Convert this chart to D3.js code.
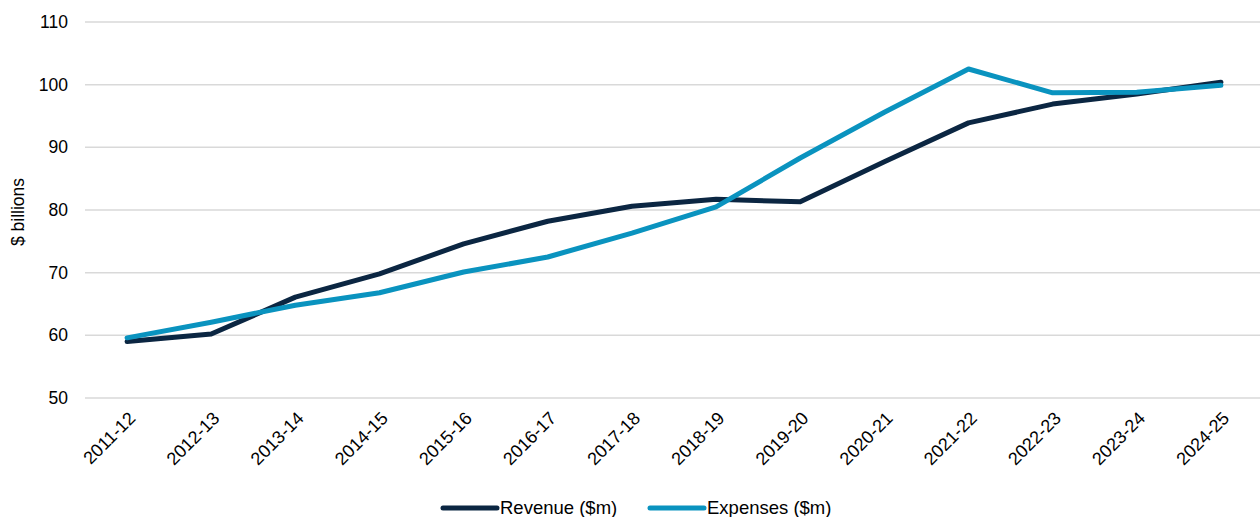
<!DOCTYPE html>
<html><head><meta charset="utf-8">
<script src="https://cdn.jsdelivr.net/npm/d3@7"></script>
<style>body{margin:0;background:#fff}svg{display:block;font-family:"Liberation Sans",Arial,sans-serif}</style>
</head><body><svg id="c" width="1260" height="517"></svg>
<script>
const categories = ["2011-12","2012-13","2013-14","2014-15","2015-16","2016-17","2017-18","2018-19","2019-20","2020-21","2021-22","2022-23","2023-24","2024-25"];
const revenue = [59.0,60.2,66.1,69.8,74.6,78.2,80.6,81.7,81.3,87.7,93.9,96.9,98.5,100.4];
const expenses = [59.6,62.1,64.8,66.8,70.1,72.5,76.3,80.5,88.3,95.6,102.5,98.7,98.8,99.9];
const yTicks = [50,60,70,80,90,100,110];
const seriesNames = ["Revenue ($m)","Expenses ($m)"];
const colors = ["#0b2642","#0a93bf"];

const svg = d3.select("#c");
const mLeft = 85, mRight = 1263, mTop = 22, mBottom = 398;
const x = d3.scaleBand().domain(categories).range([mLeft, mRight]);
const y = d3.scaleLinear().domain([50,110]).range([mBottom, mTop]);

svg.append("g").selectAll("line").data(yTicks).join("line")
  .attr("x1", mLeft).attr("x2", 1260).attr("y1", d=>y(d)).attr("y2", d=>y(d))
  .attr("stroke", "#d9d9d9").attr("stroke-width", 1.5);

svg.append("g").selectAll("text").data(yTicks).join("text")
  .attr("x", 68).attr("y", d=>y(d)).attr("dy","0.35em").attr("text-anchor","end")
  .attr("font-size", 17.5).attr("fill","#000").text(d=>d);

svg.append("text").attr("transform","translate(18,212) rotate(-90)").attr("text-anchor","middle")
  .attr("dy","0.35em").attr("font-size",17.5).attr("fill","#000").text("$ billions");

const cx = d => x(d) + x.bandwidth()/2;
svg.append("g").selectAll("text").data(categories).join("text")
  .attr("transform", d=>`translate(${cx(d)+5},${mBottom+17}) rotate(-45)`)
  .attr("text-anchor","end").attr("dy","0.35em")
  .attr("font-size",18).attr("fill","#000").text(d=>d);

const line = d3.line().x((d,i)=>cx(categories[i])).y(d=>y(d));
[revenue, expenses].forEach((s,i)=>{
  svg.append("path").datum(s).attr("d", line).attr("fill","none")
    .attr("stroke", colors[i]).attr("stroke-width",5).attr("stroke-linejoin","round").attr("stroke-linecap","round");
});

const legendX = [443, 650];
seriesNames.forEach((n,i)=>{
  const g = svg.append("g").attr("transform",`translate(${legendX[i]},508)`);
  g.append("line").attr("x1",0).attr("x2",54).attr("stroke",colors[i]).attr("stroke-width",5).attr("stroke-linecap","round");
  g.append("text").attr("x",57).attr("dy","0.35em").attr("font-size",18.5).attr("fill","#000").text(n);
});
</script></body></html>
